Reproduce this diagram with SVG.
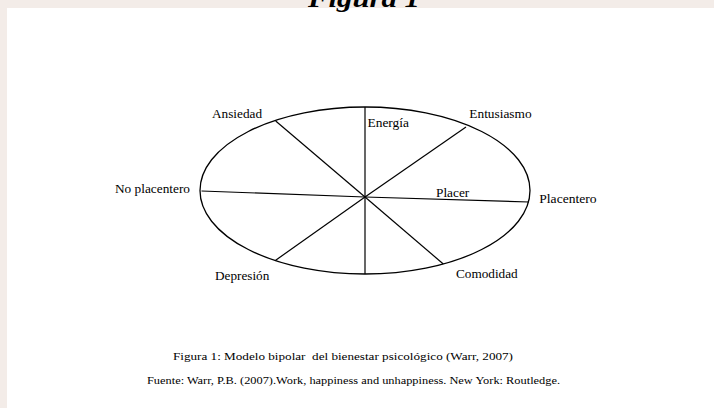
<svg xmlns="http://www.w3.org/2000/svg" width="714" height="408" viewBox="0 0 714 408">
<style>
text{font-family:"Liberation Serif","Times New Roman",Tinos,"DejaVu Serif",serif;fill:#000}
.lbl{font-size:12px}
.cap{font-size:10.5px}
.spoke{stroke:#000;stroke-width:1.2;fill:none}
.title{font-size:26px;font-weight:bold;font-style:italic}
</style>
<rect x="0" y="0" width="714" height="408" fill="#f3ece8"/>
<rect x="7" y="8" width="707" height="400" fill="#ffffff"/>
<text class="title" x="308" y="7" textLength="112" lengthAdjust="spacingAndGlyphs">Figura 1</text>
<g id="ellipse">
<ellipse cx="365" cy="190.5" rx="165" ry="83.5" fill="none" stroke="#000" stroke-width="1.3"/>
</g>
<g id="connectors">
<line class="spoke" x1="365" y1="107" x2="365" y2="274"/>
<line class="spoke" x1="365" y1="197" x2="275.7" y2="121"/>
<line class="spoke" x1="365" y1="197" x2="466" y2="127"/>
<line class="spoke" x1="365" y1="197" x2="529" y2="202"/>
<line class="spoke" x1="365" y1="197" x2="201.5" y2="191"/>
<line class="spoke" x1="365" y1="197" x2="275" y2="260.7"/>
<line class="spoke" x1="365" y1="197" x2="443.3" y2="264"/>
</g>
<g id="ansiedad"><text class="lbl" x="212" y="118" textLength="50" lengthAdjust="spacingAndGlyphs">Ansiedad</text></g>
<g id="energia"><text class="lbl" x="367.5" y="127" textLength="41.5" lengthAdjust="spacingAndGlyphs">Energía</text></g>
<g id="entusiasmo"><text class="lbl" x="469.3" y="117.7" textLength="62.3" lengthAdjust="spacingAndGlyphs">Entusiasmo</text></g>
<g id="placer"><text class="lbl" x="436" y="196.7" textLength="33.3" lengthAdjust="spacingAndGlyphs">Placer</text></g>
<g id="placentero"><text class="lbl" x="539.3" y="203.3" textLength="57.3" lengthAdjust="spacingAndGlyphs">Placentero</text></g>
<g id="no-placentero"><text class="lbl" x="115" y="192.7" textLength="75" lengthAdjust="spacingAndGlyphs">No placentero</text></g>
<g id="depresion"><text class="lbl" x="215" y="280" textLength="54.3" lengthAdjust="spacingAndGlyphs">Depresión</text></g>
<g id="comodidad"><text class="lbl" x="456" y="278.3" textLength="61.7" lengthAdjust="spacingAndGlyphs">Comodidad</text></g>
<g id="caption">
<text class="cap" x="173" y="360" xml:space="preserve" textLength="340" lengthAdjust="spacingAndGlyphs">Figura 1: Modelo bipolar  del bienestar psicológico (Warr, 2007)</text>
<text class="cap" x="147" y="384" textLength="413" lengthAdjust="spacingAndGlyphs">Fuente: Warr, P.B. (2007).Work, happiness and unhappiness. New York: Routledge.</text>
</g>
</svg>
